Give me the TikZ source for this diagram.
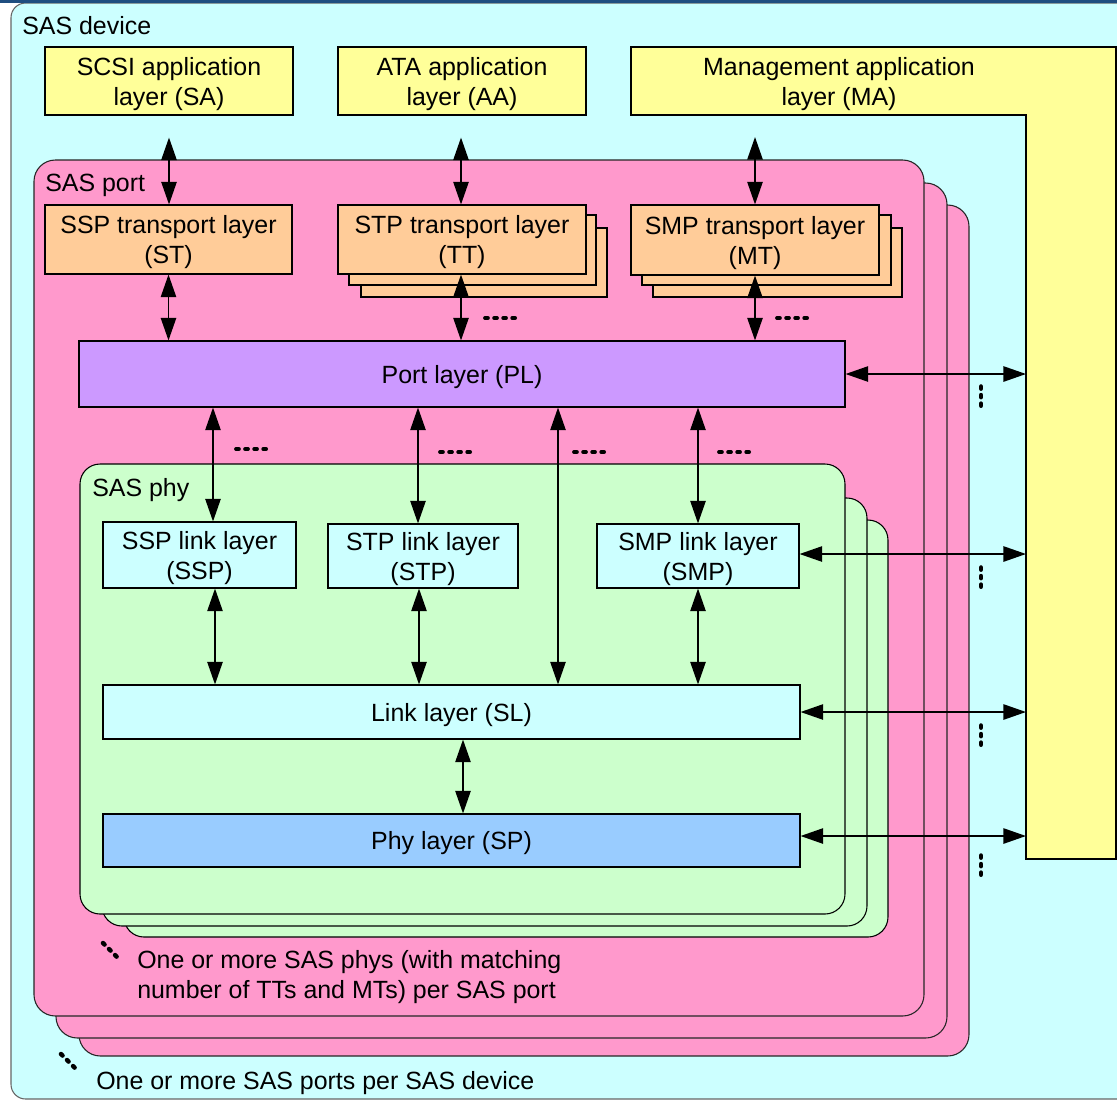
\documentclass[tikz,border=0pt]{standalone}
\usepackage{fontspec}
\setmainfont{Liberation Sans}
\usetikzlibrary{arrows.meta}
\definecolor{devcyan}{HTML}{CCFFFF}
\definecolor{appyellow}{HTML}{FFFF99}
\definecolor{portpink}{HTML}{FF99CC}
\definecolor{transorange}{HTML}{FFCC99}
\definecolor{portpurple}{HTML}{CC99FF}
\definecolor{phygreen}{HTML}{CCFFCC}
\definecolor{linkcyan}{HTML}{CCFFFF}
\definecolor{phyblue}{HTML}{99CCFF}
\definecolor{topnavy}{HTML}{1F4E80}
\newcommand\lfont{\fontsize{18.7}{22.5}\selectfont}
\tikzset{
  lay/.style={draw=black, line width=0.8pt, inner sep=0pt, align=center, font=\lfont, text depth=0pt},
  sz/.style 2 args={minimum width=#1, minimum height=#2},
  plainlay/.style={draw=black, line width=0.8pt},
  pinkbox/.style={draw=black!85, line width=0.8pt, fill=portpink, rounded corners=16pt},
  greenbox/.style={draw=black, line width=0.8pt, fill=phygreen, rounded corners=15pt},
  dar/.style={line width=1.3pt, {Triangle[length=17pt,width=11.5pt]}-{Triangle[length=17pt,width=11.5pt]}},
  hdots/.style={line width=2.8pt, line cap=round, dash pattern=on 2.2pt off 4.6pt},
  vdots/.style={line width=3.4pt, line cap=round, dash pattern=on 1.6pt off 4.8pt},
  lbl/.style={font=\lfont, inner sep=0pt, align=left}
}
\begin{document}
\begin{tikzpicture}[x=0.75pt,y=-0.75pt]
\useasboundingbox (0,0) rectangle (1117,1101);
\fill[white] (0,0) rectangle (1117,1101);
\begin{scope}
\clip (0,0) rectangle (1117,1101);
% device box
\draw[draw=black!60, line width=0.8pt, fill=devcyan, rounded corners=11pt] (11,3) rectangle (1150,1099);
\fill[topnavy] (0,0) rectangle (1117,2.5);
\end{scope}
\node[lbl, anchor=west] (devlbl) at (22,26) {SAS device};

% application layers
\node[lay, fill=appyellow, sz={186pt}{51pt}] (SA) at (169,81) {SCSI application\\layer (SA)};
\node[lay, fill=appyellow, sz={186pt}{51pt}] (AA) at (462,81) {ATA application\\layer (AA)};
\draw[plainlay, fill=appyellow] (631,47) -- (1116,47) -- (1116,859) -- (1026,859) -- (1026,115) -- (631,115) -- cycle;
\node[lbl, align=center, text depth=0pt] (MA) at (839,81) {Management application\\layer (MA)};
\coordinate (MAbot) at (755,115);
\coordinate (MAin) at (1026,500);

% SAS port stack
\draw[pinkbox] (79,205) rectangle (969,1056);
\draw[pinkbox] (56,183) rectangle (947,1038);
\draw[pinkbox] (34,160) rectangle (924,1016);
\node[lbl, anchor=west] (portlbl) at (45,185) {SAS port};

% transport layers
\node[lay, fill=transorange, sz={185.25pt}{51.75pt}] (ST) at (168.5,239.5) {SSP transport layer\\(ST)};
\node[lay, fill=transorange, sz={184.5pt}{51.75pt}] (TT3) at (484,262.5) {};
\node[lay, fill=transorange, sz={185.25pt}{52.5pt}] (TT2) at (472.5,250) {};
\node[lay, fill=transorange, sz={186pt}{51.75pt}] (TT) at (462,239.5) {STP transport layer\\(TT)};
\node[lay, fill=transorange, sz={186.75pt}{51.75pt}] (MT3) at (777.5,262.5) {};
\node[lay, fill=transorange, sz={186.75pt}{52.5pt}] (MT2) at (766.5,250) {};
\node[lay, fill=transorange, sz={186pt}{52.5pt}] (MT) at (755,240) {SMP transport layer\\(MT)};

% port layer
\node[lay, fill=portpurple, sz={574.5pt}{49.5pt}] (PL) at (462,374) {Port layer (PL)};

% SAS phy stack
\draw[greenbox] (124,520) rectangle (888,937);
\draw[greenbox] (102,498) rectangle (867,926);
\draw[greenbox] (80,464) rectangle (845,914);
\node[lbl, anchor=west] (phylbl) at (92,490) {SAS phy};

\node[lay, fill=linkcyan, sz={144.75pt}{49.5pt}] (SSPL) at (199.5,555) {SSP link layer\\(SSP)};
\node[lay, fill=linkcyan, sz={142.5pt}{48pt}] (STPL) at (423,556) {STP link layer\\(STP)};
\node[lay, fill=linkcyan, sz={151.5pt}{48pt}] (SMPL) at (698,556) {SMP link layer\\(SMP)};
\node[lay, fill=linkcyan, sz={522.75pt}{40.5pt}] (SL) at (451.5,712) {Link layer (SL)};
\node[lay, fill=phyblue, sz={522.75pt}{39.75pt}] (SP) at (451.5,840.5) {Phy layer (SP)};

% arrows: application <-> transport
\draw[dar, shorten <=16.5pt] (SA.south) -- (SA.south |- ST.north);
\draw[dar, shorten <=16.5pt] (461,0 |- AA.south) -- (461,0 |- TT.north);
\draw[dar, shorten <=16.5pt] (MAbot) -- (MAbot |- MT.north);
% transport <-> port layer
\draw[dar] (ST.south) -- (ST.south |- PL.north);
\draw[dar] (461,0 |- TT.south) -- (461,0 |- PL.north);
\draw[dar] (MT.south) -- (MT.south |- PL.north);
% port layer <-> phy
\draw[dar] (213,0 |- PL.south) -- (213,0 |- SSPL.north);
\draw[dar] (418,0 |- PL.south) -- (418,0 |- STPL.north);
\draw[dar] (558,0 |- PL.south) -- (558,0 |- SL.north);
\draw[dar] (698,0 |- PL.south) -- (698,0 |- SMPL.north);
% link layers <-> link layer
\draw[dar] (215,0 |- SSPL.south) -- (215,0 |- SL.north);
\draw[dar] (419,0 |- STPL.south) -- (419,0 |- SL.north);
\draw[dar] (698,0 |- SMPL.south) -- (698,0 |- SL.north);
\draw[dar] (463,0 |- SL.south) -- (463,0 |- SP.north);
% management connections
\draw[dar] (PL.east) -- (PL.east -| MAin);
\draw[dar] (SMPL.east |- 0,554) -- (MAin |- 0,554);
\draw[dar] (SL.east) -- (SL.east -| MAin);
\draw[dar] (SP.east |- 0,836) -- (MAin |- 0,836);

% ellipsis marks
\draw[hdots] (485,318) -- (516,318);
\draw[hdots] (777,318) -- (809,318);
\draw[hdots] (236,449) -- (267,449);
\draw[hdots] (440,452) -- (471,452);
\draw[hdots] (574,452) -- (605,452);
\draw[hdots] (719,452) -- (751,452);
\draw[vdots] (981,386.5) -- (981,406);
\draw[vdots] (981,567.5) -- (981,587);
\draw[vdots] (981,725.5) -- (981,745);
\draw[vdots] (981,855.5) -- (981,875);
\draw[vdots] (103,943) -- (117,957);
\draw[vdots] (61,1054) -- (75,1068);

\node[lbl, anchor=west] (phynote) at (137,977) {One or more SAS phys (with matching\\number of TTs and MTs) per SAS port};
\node[lbl, anchor=west] (portnote) at (96,1083) {One or more SAS ports per SAS device};
\end{tikzpicture}
\end{document}
